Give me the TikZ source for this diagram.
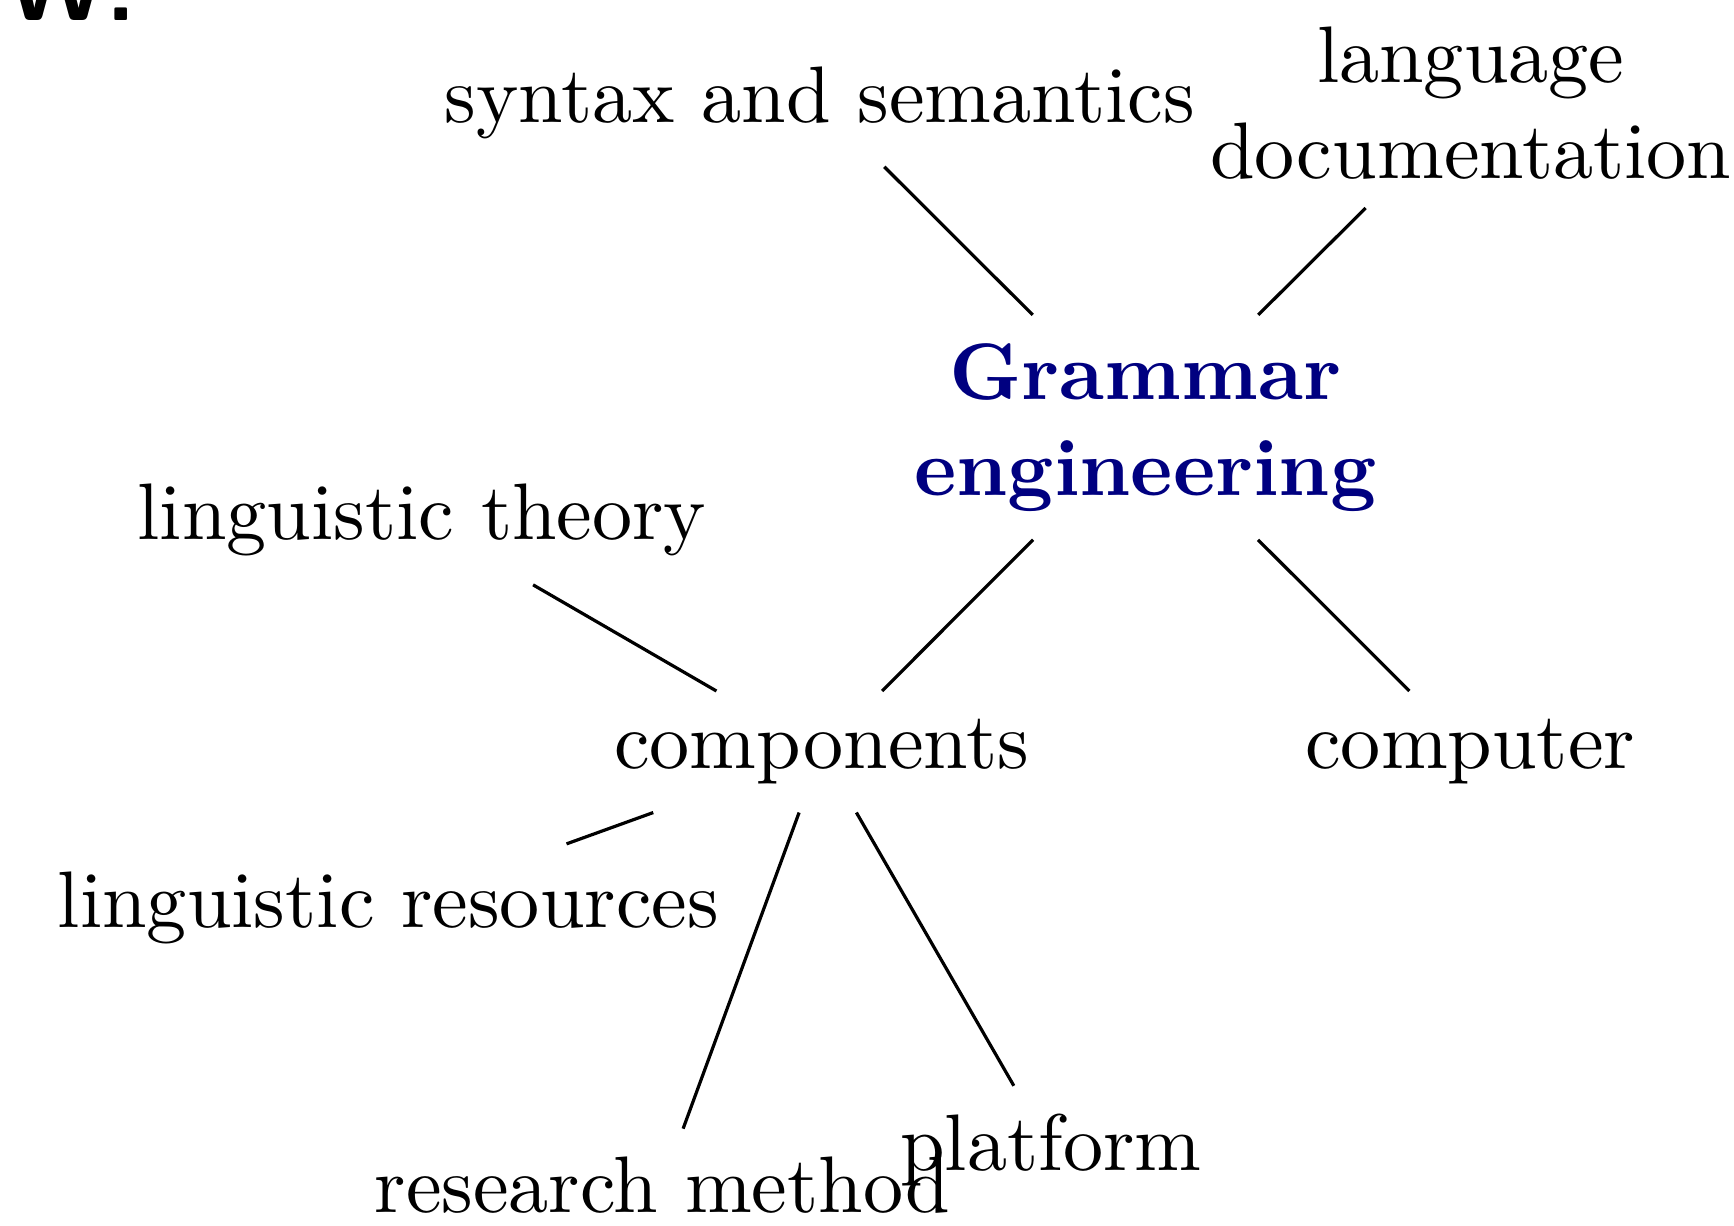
\documentclass[tikz,border=0pt]{standalone}
\definecolor{hubblue}{RGB}{0,0,128}
\begin{document}
\begin{tikzpicture}[
  topic/.style={align=center},
  hub/.style={font=\bfseries, text=hubblue, align=center}
]
\useasboundingbox (0,0) rectangle (7.60,5.37);
% cut-off slide heading
\node[anchor=base west, inner sep=0pt, font=\large\sffamily\bfseries] (head) at (0.02,5.28) {W:};
% centre
\node[hub] (gram) at (5.02,3.497) {Grammar\\engineering};
% topics
\node[topic] (syn) at (3.593,4.921) {syntax and semantics};
\node[topic] (lang) at (6.446,4.917) {language\\documentation};
\node[topic] (comp) at (3.600,2.075) {components};
\node[topic] (cpu) at (6.444,2.075) {computer};
\node[topic] (theo) at (1.849,3.089) {linguistic theory};
\node[topic] (res) at (1.702,1.389) {linguistic resources};
\node[topic] (meth) at (2.903,0.175) {research method};
\node[topic] (plat) at (4.606,0.329) {platform};
% links
\foreach \n in {syn,lang,comp,cpu} {
  \draw (gram) -- (\n);
}
\foreach \n in {theo,res,meth,plat} {
  \draw (comp) -- (\n);
}
\end{tikzpicture}
\end{document}
